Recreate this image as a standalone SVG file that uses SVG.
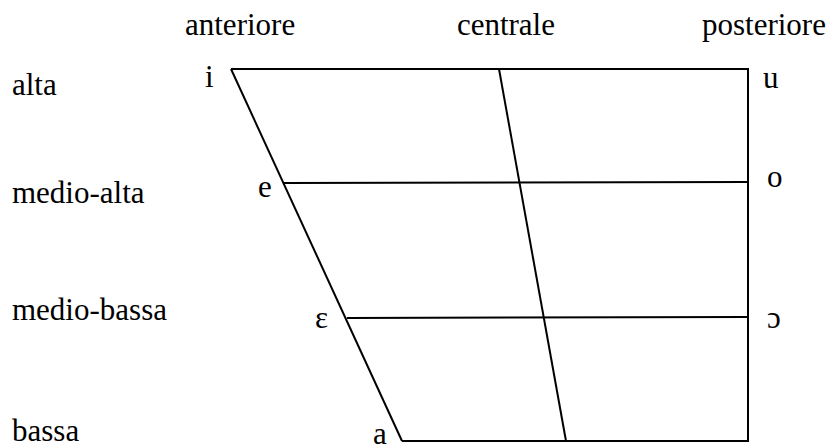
<svg xmlns="http://www.w3.org/2000/svg" width="832" height="446" viewBox="0 0 832 446">
<style>
text{font-family:"Liberation Serif","Times New Roman",serif;font-size:31px;fill:#000}
.ln{stroke:#000;stroke-width:2;fill:none}
</style>
<rect width="832" height="446" fill="#fff"/>
<g id="connectors">
<line class="ln" x1="231" y1="69" x2="748" y2="69"/>
<line class="ln" x1="231" y1="69" x2="402" y2="441"/>
<line class="ln" x1="748" y1="68" x2="748" y2="442"/>
<line class="ln" x1="402" y1="441" x2="748" y2="441"/>
<line class="ln" x1="284" y1="183" x2="748" y2="182"/>
<line class="ln" x1="347" y1="318" x2="748" y2="317"/>
<line class="ln" x1="499" y1="69" x2="566" y2="441"/>
</g>
<g id="headers">
<text x="185" y="35">anteriore</text>
<text x="555" y="35" text-anchor="end">centrale</text>
<text x="702" y="35">posteriore</text>
</g>
<g id="rows">
<text x="12" y="95">alta</text>
<text x="12" y="203">medio-alta</text>
<text x="12" y="320">medio-bassa</text>
<text x="12" y="441">bassa</text>
</g>
<g id="vowels">
<text x="205" y="87">i</text>
<text x="763" y="88">u</text>
<text x="258" y="197">e</text>
<text x="767" y="187">o</text>
<text x="315" y="328">ɛ</text>
<text x="767" y="328">ɔ</text>
<text x="373" y="444">a</text>
</g>
</svg>
